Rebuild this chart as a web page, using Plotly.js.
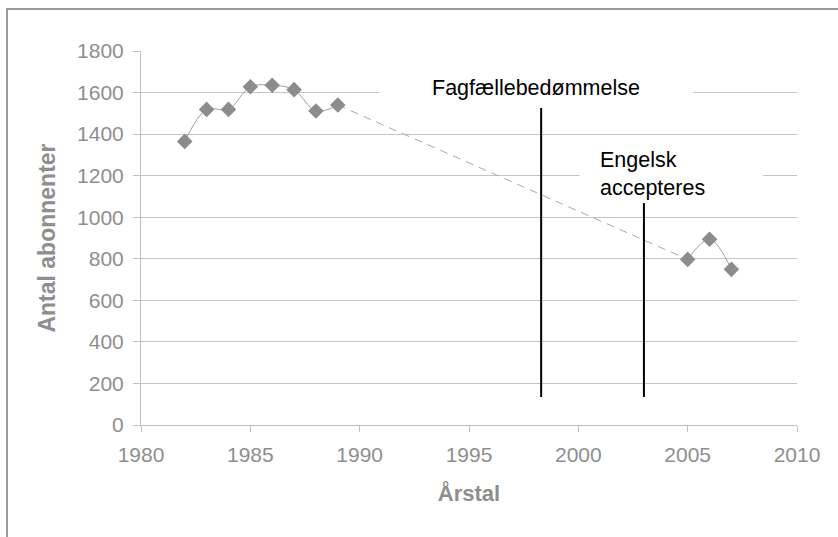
<!DOCTYPE html>
<html>
<head>
<meta charset="utf-8">
<script src="https://cdn.plot.ly/plotly-3.0.1.min.js"></script>
<style>
  html, body { margin: 0; padding: 0; background: #ffffff; }
  #frame { position: absolute; left: 6px; top: 8px; width: 900px; height: 600px;
           border-left: 2px solid #9a9a9a; border-top: 2px solid #9a9a9a; }
  #chart { position: absolute; left: 0; top: 0; width: 838px; height: 537px; }
</style>
</head>
<body>
<div id="frame"></div>
<div id="chart"></div>
<script>
// ---- data ----
const yearsEarly  = [1982, 1983, 1984, 1985, 1986, 1987, 1988, 1989];
const valuesEarly = [1365, 1519, 1519, 1628, 1635, 1614, 1511, 1540];
const yearsLate   = [2005, 2006, 2007];
const valuesLate  = [797, 894, 749];

const eventLabels  = ["Fagfællebedømmelse", "Engelsk<br>accepteres"];
const eventYears   = [1998.3, 2003];
const eventTops    = [1526, 1068];
const eventBottoms = [135, 135];

const xTickVals = [1980, 1985, 1990, 1995, 2000, 2005, 2010];
const yTickVals = [0, 200, 400, 600, 800, 1000, 1200, 1400, 1600, 1800];

const xTitle = "Årstal";
const yTitle = "Antal abonnenter";

// ---- traces ----
const grayText = "#8e8e8e";
const traces = [];

// dashed connector between the two observed periods
traces.push({
  x: [yearsEarly[yearsEarly.length - 1], yearsLate[0]],
  y: [valuesEarly[valuesEarly.length - 1], valuesLate[0]],
  mode: "lines", type: "scatter", hoverinfo: "skip",
  line: { color: "#a8a8a8", width: 1, dash: "8px,6px" }
});

[[yearsEarly, valuesEarly], [yearsLate, valuesLate]].forEach(([xs, ys]) => {
  traces.push({
    x: xs, y: ys, mode: "lines+markers", type: "scatter",
    line: { color: "#a0a0a0", width: 1, shape: "spline", smoothing: 1 },
    marker: { symbol: "diamond", size: 12, color: "#8c8c8c" }
  });
});

// vertical event lines
eventYears.forEach((yr, i) => {
  traces.push({
    x: [yr, yr], y: [eventBottoms[i], eventTops[i]],
    mode: "lines", type: "scatter", hoverinfo: "skip",
    line: { color: "#000000", width: 2 }
  });
});

// ---- layout ----
const layout = {
  width: 838, height: 537,
  margin: { l: 141, r: 41, t: 51, b: 112 },
  paper_bgcolor: "rgba(0,0,0,0)",
  plot_bgcolor: "#ffffff",
  showlegend: false,
  font: { family: "Liberation Sans, Arial, sans-serif", color: grayText, size: 21 },
  xaxis: {
    range: [1980, 2010], tickvals: xTickVals, ticktext: xTickVals.map(String),
    showgrid: false, zeroline: false,
    showline: true, linecolor: "#c0c0c0", linewidth: 1,
    ticks: "outside", ticklen: 6, tickcolor: "#c0c0c0",
    tickfont: { size: 21, color: grayText },
    ticklabelstandoff: 5,
    title: { text: xTitle, font: { size: 22, color: grayText, weight: "bold" }, standoff: 20 }
  },
  yaxis: {
    range: [0, 1800], tickvals: yTickVals, ticktext: yTickVals.map(String),
    showgrid: true, gridcolor: "#c4c4c4", gridwidth: 1, zeroline: false,
    showline: true, linecolor: "#c0c0c0", linewidth: 1,
    ticks: "outside", ticklen: 7, tickcolor: "#c0c0c0",
    tickfont: { size: 21, color: grayText },
    ticklabelstandoff: 5,
    title: { text: yTitle, font: { size: 23, color: grayText, weight: "bold" }, standoff: 15 }
  },
  shapes: [
    { type: "rect", xref: "x", yref: "y", x0: 1990.9, x1: 2005.25, y0: 1535, y1: 1700,
      fillcolor: "#ffffff", line: { width: 0 }, layer: "above" },
    { type: "rect", xref: "x", yref: "y", x0: 2000.05, x1: 2008.45, y0: 1080, y1: 1360,
      fillcolor: "#ffffff", line: { width: 0 }, layer: "above" }
  ],
  annotations: [
    { x: 1998.05, y: 1620, xref: "x", yref: "y", text: eventLabels[0], showarrow: false,
      xanchor: "center", yanchor: "middle", font: { size: 21.5, color: "#000000" } },
    { x: 2000.9, y: 1210, xref: "x", yref: "y", text: eventLabels[1], showarrow: false,
      xanchor: "left", yanchor: "middle", align: "left", font: { size: 21.5, color: "#000000" } }
  ]
};

Plotly.newPlot("chart", traces, layout, { staticPlot: true, displayModeBar: false });
</script>
</body>
</html>
